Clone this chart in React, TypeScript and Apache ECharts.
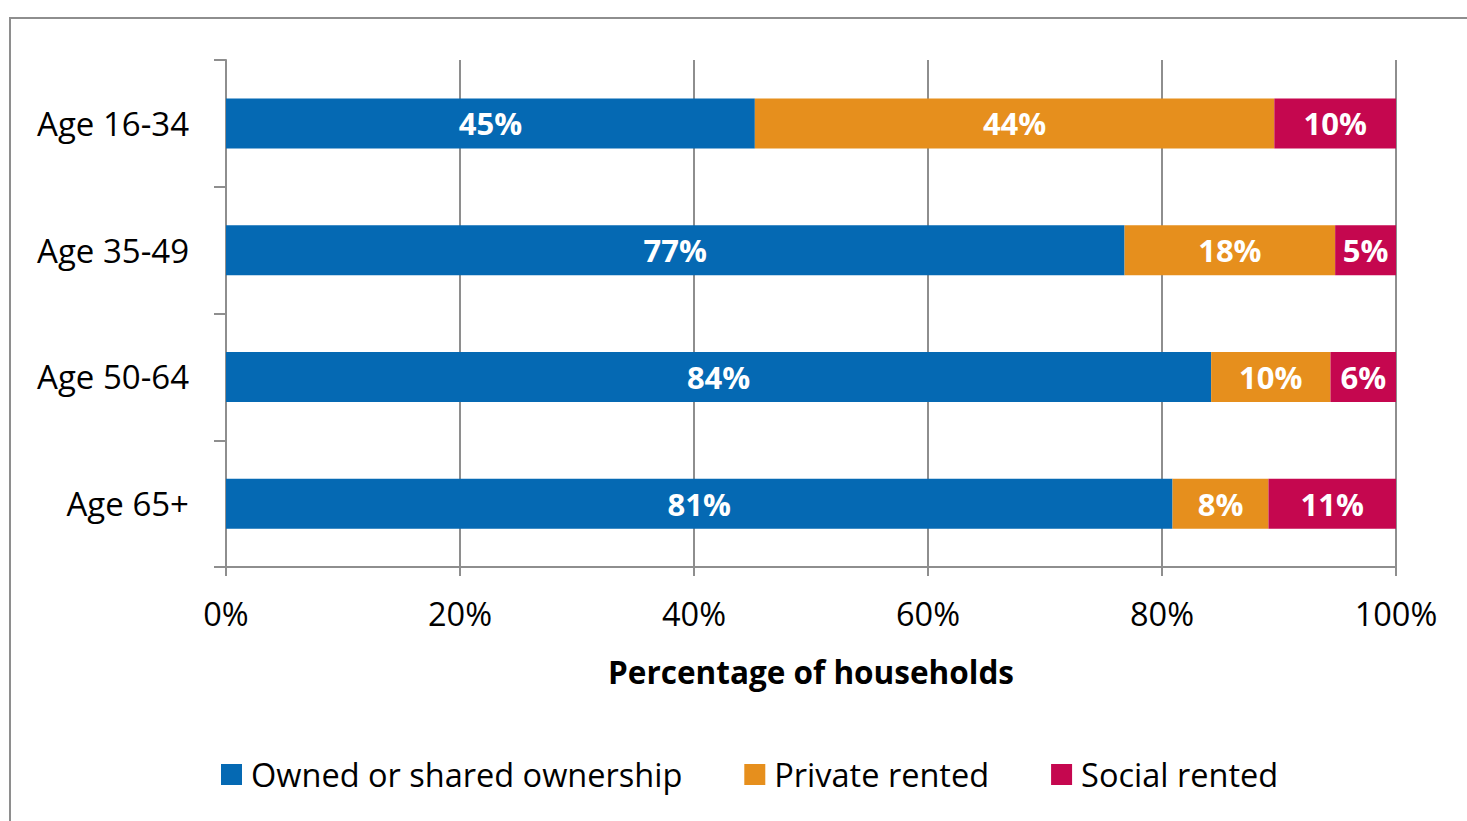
import React, { useEffect, useRef } from "react";
import * as echarts from "echarts";

const categories = ["Age 16-34", "Age 35-49", "Age 50-64", "Age 65+"];
const owned = [45.2, 76.8, 84.2, 80.9];
const privateRented = [44.4, 18.0, 10.2, 8.2];
const socialRented = [10.4, 5.2, 5.6, 10.9];
const seriesNames = ["Owned or shared ownership", "Private rented", "Social rented"];
const colors = ["#0569B3", "#E68F1D", "#C5074F"];

const FONT = "Open Sans";
const AXIS_GRAY = "#8E8E8E";

export default function App() {
  const ref = useRef<HTMLDivElement>(null);
  useEffect(() => {
    if (!ref.current) return;
    const chart = echarts.init(ref.current, null, { renderer: "svg" });
    const values = [owned, privateRented, socialRented];
    const label = {
      show: true,
      position: "inside",
      color: "#FFFFFF",
      fontFamily: FONT,
      fontWeight: "bold",
      fontSize: 31,
      formatter: (p: any) => Math.round(p.value) + "%",
    };
    chart.setOption({
      animation: false,
      textStyle: { fontFamily: FONT },
      graphic: [
        {
          type: "rect",
          shape: { x: 10, y: 18, width: 1600, height: 1000 },
          style: { fill: "none", stroke: AXIS_GRAY, lineWidth: 2 },
          silent: true,
        },
      ],
      grid: { left: 226, right: 71, top: 60, bottom: 254, containLabel: false },
      legend: {
        left: 221,
        top: 758,
        padding: 0,
        itemWidth: 21,
        itemHeight: 21,
        itemGap: 62,
        icon: "rect",
        textStyle: { fontFamily: FONT, fontSize: 32.5, color: "#000", padding: [0, 0, 0, 4] },
        data: seriesNames,
      },
      xAxis: {
        type: "value",
        min: 0,
        max: 100,
        interval: 20,
        name: "Percentage of households",
        nameLocation: "middle",
        nameGap: 88,
        nameTextStyle: { fontFamily: FONT, fontSize: 31.5, fontWeight: "bold", color: "#000" },
        axisLine: { show: true, lineStyle: { color: AXIS_GRAY, width: 2 } },
        axisTick: { show: true, length: 9, lineStyle: { color: AXIS_GRAY, width: 2 } },
        splitLine: { show: true, lineStyle: { color: AXIS_GRAY, width: 2 } },
        axisLabel: {
          formatter: "{value}%",
          fontFamily: FONT,
          fontSize: 32.5,
          color: "#000",
          margin: 30,
        },
      },
      yAxis: {
        type: "category",
        inverse: true,
        data: categories,
        axisLine: { show: true, lineStyle: { color: AXIS_GRAY, width: 2 } },
        axisTick: { show: true, length: 12, lineStyle: { color: AXIS_GRAY, width: 2 } },
        axisLabel: { fontFamily: FONT, fontSize: 33, color: "#000", margin: 37 },
      },
      series: seriesNames.map((name, i) => ({
        name,
        type: "bar",
        stack: "total",
        barWidth: 50,
        data: values[i],
        itemStyle: { color: colors[i] },
        label,
      })),
    });
    return () => chart.dispose();
  }, []);
  return (
    <div
      ref={ref}
      style={{ position: "absolute", left: 0, top: 0, width: 1467, height: 821, background: "#fff" }}
    />
  );
}
